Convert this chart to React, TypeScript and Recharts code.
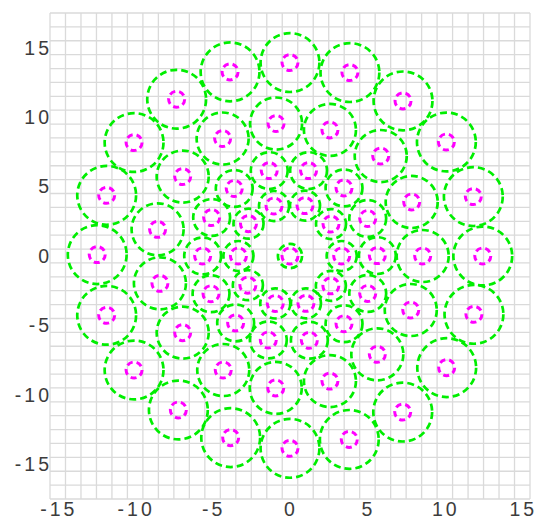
import { CartesianGrid, ScatterChart, Scatter, XAxis, YAxis } from 'recharts';

const WIDTH = 537;
const HEIGHT = 519;
const MARGIN = { top: 13, right: 7, bottom: 0, left: 0 };
const Y_AXIS_WIDTH = 50;
const X_AXIS_HEIGHT = 20;

const X_DOMAIN: [number, number] = [-15.5, 15.5];
const Y_DOMAIN: [number, number] = [-17.5, 17.5];

const X_TICKS = [-15, -10, -5, 0, 5, 10, 15];
const Y_TICKS = [-15, -10, -5, 0, 5, 10, 15];

// the grid runs on half units, offset from the labelled ticks
const GRID_X = [
  -15.5, -14.5, -13.5, -12.5, -11.5, -10.5, -9.5, -8.5, -7.5, -6.5, -5.5, -4.5, -3.5, -2.5, -1.5, -0.5,
  0.5, 1.5, 2.5, 3.5, 4.5, 5.5, 6.5, 7.5, 8.5, 9.5, 10.5, 11.5, 12.5, 13.5, 14.5, 15.5,
];
const GRID_Y = [
  -17.5, -16.5, -15.5, -14.5, -13.5, -12.5, -11.5, -10.5, -9.5, -8.5, -7.5, -6.5, -5.5, -4.5, -3.5, -2.5, -1.5, -0.5,
  0.5, 1.5, 2.5, 3.5, 4.5, 5.5, 6.5, 7.5, 8.5, 9.5, 10.5, 11.5, 12.5, 13.5, 14.5, 15.5, 16.5, 17.5,
];

// circle centres, ring by ring
const centre: [number, number][] = [[0, 0]];

const innerRing: [number, number][] = [
  [3.34, 0], [2.65, 2.3], [0.97, 3.63], [-1.03, 3.6], [-2.68, 2.33],
  [-3.33, 0], [-2.72, -2.1], [-0.95, -3.42], [1.03, -3.41], [2.64, -2.15],
];

const middleRing: [number, number][] = [
  [5.64, 0.03], [5.02, 2.7], [3.49, 4.9], [1.2, 6.15], [-1.34, 6.15], [-3.6, 4.86], [-5.06, 2.77],
  [-5.64, 0], [-5.1, -2.72], [-3.51, -4.82], [-1.4, -6.05], [1.25, -6.07], [3.49, -4.88], [5.02, -2.7],
];

const secondRing: [number, number][] = [
  [8.57, 0], [7.86, 3.89], [5.86, 7.2], [2.58, 9.08], [-0.9, 9.54], [-4.35, 8.46], [-6.93, 5.72],
  [-8.55, 1.92], [-8.4, -1.97], [-6.93, -5.52], [-4.31, -8.21], [-0.92, -9.5], [2.58, -9.01],
  [5.64, -7.08], [7.8, -3.89],
];

const outerRing: [number, number][] = [
  [12.45, 0], [11.84, 4.28], [10.1, 8.21], [7.3, 11.17], [3.87, 13.21], [0, 13.93], [-3.87, 13.26],
  [-7.32, 11.29], [-10.07, 8.17], [-11.84, 4.37], [-12.45, 0.1], [-11.84, -4.27], [-10.07, -8.21],
  [-7.21, -11.09], [-3.83, -13.08], [0, -13.85], [3.83, -13.21], [7.28, -11.24], [10.12, -8.04],
  [11.88, -4.2],
];

// green circle radius per ring, in x-axis units
const rings = [centre, innerRing, middleRing, secondRing, outerRing];
const ringRadii = [0.78, 0.97, 1.19, 1.68, 1.9];

const points = rings.flatMap((ring, i) => ring.map(([x, y]) => ({ x, y, r: ringRadii[i] })));

const GREEN = '#00ee00';
const MAGENTA = '#ff00ff';
const FONT = '"Liberation Sans", Arial, sans-serif';
const TICK_STYLE = { fontSize: 19.5, fill: '#3c3c3c', fontFamily: FONT, letterSpacing: 3 };

const PLOT_WIDTH = WIDTH - MARGIN.left - MARGIN.right - Y_AXIS_WIDTH;
const PX_PER_X = PLOT_WIDTH / (X_DOMAIN[1] - X_DOMAIN[0]);

const GreenCircle = (props: any) => {
  const { cx, cy, payload } = props;
  if (cx == null || cy == null) return null;
  return (
    <circle cx={cx} cy={cy} r={payload.r * PX_PER_X} fill="none" stroke={GREEN} strokeWidth={2.7} strokeDasharray="7 4" />
  );
};

const MagentaCircle = (props: any) => {
  const { cx, cy } = props;
  if (cx == null || cy == null) return null;
  return <circle cx={cx} cy={cy} r={8} fill="none" stroke={MAGENTA} strokeWidth={3} strokeDasharray="6 4" />;
};

export default function App() {
  return (
    <div style={{ position: 'absolute', left: 0, top: 0, background: '#fff' }}>
      <ScatterChart width={WIDTH} height={HEIGHT} margin={MARGIN}>
        <CartesianGrid stroke="#dadada" strokeWidth={1.3} verticalValues={GRID_X} horizontalValues={GRID_Y} />
        <XAxis
          dataKey="x"
          type="number"
          domain={X_DOMAIN}
          ticks={X_TICKS}
          interval={0}
          height={X_AXIS_HEIGHT}
          tick={{ ...TICK_STYLE, dx: 1 }}
          tickSize={0}
          tickMargin={3}
          tickLine={false}
          axisLine={false}
        />
        <YAxis
          dataKey="y"
          type="number"
          domain={Y_DOMAIN}
          ticks={Y_TICKS}
          interval={0}
          width={Y_AXIS_WIDTH}
          tick={{ ...TICK_STYLE, dx: 2 }}
          tickSize={0}
          tickMargin={0}
          tickLine={false}
          axisLine={false}
        />
        <Scatter data={points} shape={<GreenCircle />} isAnimationActive={false} />
        <Scatter data={points} shape={<MagentaCircle />} isAnimationActive={false} />
      </ScatterChart>
    </div>
  );
}
